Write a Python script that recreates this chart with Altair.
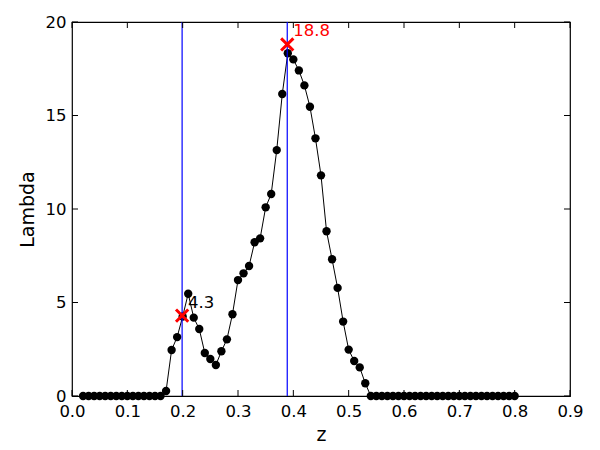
import altair as alt
import pandas as pd

# data
z_values = [round(0.02 + 0.01 * i, 2) for i in range(79)]
lam_values = (
    [0.0] * 15
    + [0.27, 2.46, 3.15, 4.25, 5.47, 4.19, 3.58, 2.30, 1.98, 1.66,
       2.39, 3.03, 4.37, 6.20, 6.56, 6.95, 8.22, 8.43, 10.09, 10.80,
       13.15, 16.15, 18.33, 18.00, 17.41, 16.61, 15.47, 13.78, 11.80, 8.81,
       7.31, 5.78, 3.98, 2.48, 1.87, 1.53, 0.68]
    + [0.0] * 27
)
vline_z = [0.199, 0.389]
peak_z = [0.199, 0.389]
peak_lam = [4.3, 18.8]
peak_text = ["4.3", "18.8"]
peak_color = ["black", "red"]
x_ticks = [0.0, 0.1, 0.2, 0.3, 0.4, 0.5, 0.6, 0.7, 0.8, 0.9]
y_ticks = [0, 5, 10, 15, 20]

W, H = 498, 374
FONT = "DejaVu Sans"

df = pd.DataFrame({"z": z_values, "lam": lam_values})
peaks = pd.DataFrame({"z": peak_z, "lam": peak_lam, "text": peak_text, "color": peak_color})
vl = pd.DataFrame({"z": vline_z})
xt = pd.DataFrame({"t": x_ticks})
yt = pd.DataFrame({"t": y_ticks})

xs = alt.Scale(domain=[0, 0.9], nice=False, zero=False)
ys = alt.Scale(domain=[0, 20], nice=False, zero=False)

xaxis = alt.Axis(values=x_ticks, format=".1f", title="z", grid=False, domain=False,
                 ticks=False, labelPadding=7, labelFlush=False, labelOverlap=False,
                 labelFont=FONT, labelFontSize=16.5,
                 labelColor="black", titleFont=FONT, titleFontSize=19,
                 titleFontWeight="normal", titleColor="black", titlePadding=6)
yaxis = alt.Axis(values=y_ticks, format="d", title="Lambda", grid=False, domain=False,
                 ticks=False, labelPadding=6, labelFlush=False, labelOverlap=False,
                 labelFont=FONT, labelFontSize=16.5,
                 labelColor="black", titleFont=FONT, titleFontSize=19,
                 titleFontWeight="normal", titleColor="black", titlePadding=8)

base = alt.Chart(df)

line = base.mark_line(color="black", strokeWidth=1).encode(
    x=alt.X("z:Q", scale=xs, axis=xaxis),
    y=alt.Y("lam:Q", scale=ys, axis=yaxis),
)
pts = base.mark_point(filled=True, color="black", size=70, opacity=1, shape="circle").encode(
    x=alt.X("z:Q", scale=xs), y=alt.Y("lam:Q", scale=ys)
)

vlines = alt.Chart(vl).mark_rule(color="#0000ff", strokeWidth=1.2).encode(
    x=alt.X("z:Q", scale=xs)
)

xmark = alt.Chart(peaks).mark_point(
    shape="M-1,-1L1,1M1,-1L-1,1", color="red", strokeWidth=3, size=150, opacity=1, filled=False
).encode(x=alt.X("z:Q", scale=xs), y=alt.Y("lam:Q", scale=ys))

labels = alt.Chart(peaks).mark_text(
    align="left", baseline="bottom", dx=6, dy=-5, font=FONT, fontSize=16.5
).encode(
    x=alt.X("z:Q", scale=xs), y=alt.Y("lam:Q", scale=ys), text="text:N",
    color=alt.Color("color:N", scale=None),
)

tk = 6
xb = alt.Chart(xt).mark_rule(color="black", strokeWidth=1).encode(
    x=alt.X("t:Q", scale=xs), y=alt.value(H), y2=alt.value(H - tk))
xtp = alt.Chart(xt).mark_rule(color="black", strokeWidth=1).encode(
    x=alt.X("t:Q", scale=xs), y=alt.value(0), y2=alt.value(tk))
yl = alt.Chart(yt).mark_rule(color="black", strokeWidth=1).encode(
    y=alt.Y("t:Q", scale=ys), x=alt.value(0), x2=alt.value(tk))
yr = alt.Chart(yt).mark_rule(color="black", strokeWidth=1).encode(
    y=alt.Y("t:Q", scale=ys), x=alt.value(W), x2=alt.value(W - tk))

chart = alt.layer(line, pts, vlines, xmark, labels, xb, xtp, yl, yr).properties(
    width=W, height=H,
    autosize=alt.AutoSizeParams(type="none"),
    padding={"left": 64, "top": 14, "right": 22, "bottom": 52},
).configure(background="white").configure_view(stroke="black", strokeWidth=1.2)

chart.save("out.html", embed_options={"renderer": "svg", "actions": False})
